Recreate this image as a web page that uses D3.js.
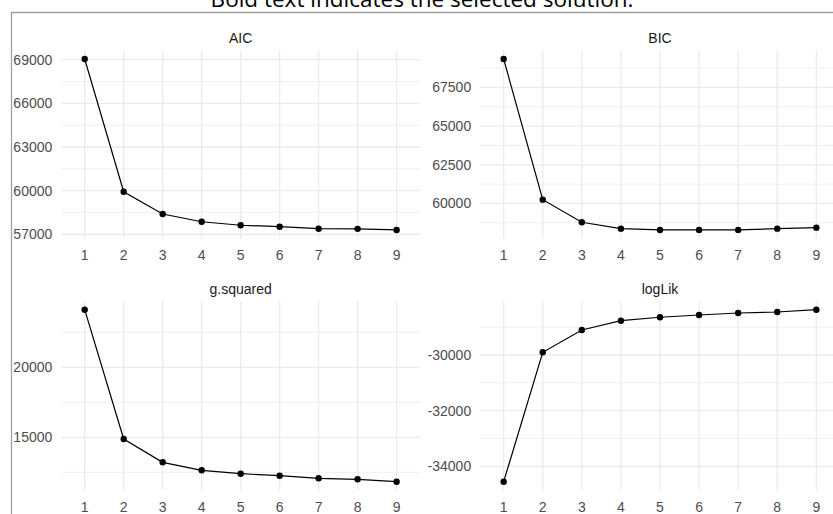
<!DOCTYPE html>
<html>
<head>
<meta charset="utf-8">
<script src="https://cdn.jsdelivr.net/npm/d3@7"></script>
<style>
  html, body { margin: 0; padding: 0; background: #ffffff; overflow: hidden; }
  svg { display: block; }
</style>
</head>
<body>
<svg id="chart" width="833" height="514"></svg>
<script>
// ---- data ----
const classes = [1, 2, 3, 4, 5, 6, 7, 8, 9];
const aicValues = [69050, 59920, 58390, 57860, 57620, 57520, 57380, 57370, 57295];
const bicValues = [69340, 60246, 58785, 58371, 58287, 58290, 58290, 58371, 58436];
const gsqValues = [24114, 14880, 13214, 12643, 12400, 12257, 12071, 12000, 11829];
const loglikValues = [-34553, -29903, -29102, -28768, -28645, -28563, -28491, -28455, -28373];
const aicTicks = [57000, 60000, 63000, 66000, 69000];
const bicTicks = [60000, 62500, 65000, 67500];
const gsqTicks = [15000, 20000];
const loglikTicks = [-34000, -32000, -30000];
const panelTitles = ["AIC", "BIC", "g.squared", "logLik"];
const titleText = "Bold text indicates the selected solution.";

// ---- layout ----
const svg = d3.select("#chart");
const W = 833, H = 514;
const cols = [[61.3, 420.0], [480.2, 839.8]];
const rows = [[50.45, 238.5], [301.1, 490.3]];

const panels = [
  { title: panelTitles[0], values: aicValues, ticks: aicTicks, col: 0, row: 0 },
  { title: panelTitles[1], values: bicValues, ticks: bicTicks, col: 1, row: 0 },
  { title: panelTitles[2], values: gsqValues, ticks: gsqTicks, col: 0, row: 1 },
  { title: panelTitles[3], values: loglikValues, ticks: loglikTicks, col: 1, row: 1 }
];

const axisFont = "'Liberation Sans', Arial, sans-serif";

// title (partly cut off at the top, as in the reference)
svg.append("text")
  .attr("x", 422)
  .attr("y", 7)
  .attr("text-anchor", "middle")
  .attr("font-family", "'Open Sans', 'Noto Sans', sans-serif")
  .attr("font-size", 22.5)
  .attr("fill", "#000")
  .text(titleText);

// frame
svg.append("path")
  .attr("d", `M11.5,${H} L11.5,12.5 L${W},12.5`)
  .attr("fill", "none")
  .attr("stroke", "#a0a0a0")
  .attr("stroke-width", 1.3);

panels.forEach(p => {
  const [x0, x1] = cols[p.col];
  const [y0, y1] = rows[p.row];
  const x = d3.scalePoint().domain(classes).range([x0, x1]).padding(0.6);
  const mn = d3.min(p.values), mx = d3.max(p.values);
  const r = mx - mn;
  const y = d3.scaleLinear().domain([mn - 0.05 * r, mx + 0.05 * r]).range([y1, y0]);
  const g = svg.append("g");

  // minor gridlines
  const step = p.ticks[1] - p.ticks[0];
  const minors = [];
  for (let v = p.ticks[0] - step / 2; v <= p.ticks[p.ticks.length - 1] + step; v += step) {
    if (v >= y.domain()[0] && v <= y.domain()[1]) minors.push(v);
  }
  g.selectAll(".minor").data(minors).enter().append("line")
    .attr("x1", x0).attr("x2", x1)
    .attr("y1", d => y(d)).attr("y2", d => y(d))
    .attr("stroke", "#ebebeb").attr("stroke-width", 0.8);

  // major horizontal gridlines
  g.selectAll(".major").data(p.ticks).enter().append("line")
    .attr("x1", x0).attr("x2", x1)
    .attr("y1", d => y(d)).attr("y2", d => y(d))
    .attr("stroke", "#ebebeb").attr("stroke-width", 1.3);

  // vertical gridlines
  g.selectAll(".vgrid").data(classes).enter().append("line")
    .attr("x1", d => x(d)).attr("x2", d => x(d))
    .attr("y1", y0).attr("y2", y1)
    .attr("stroke", "#ebebeb").attr("stroke-width", 1.3);

  // y tick labels
  g.selectAll(".ylab").data(p.ticks).enter().append("text")
    .attr("x", x0 - 9)
    .attr("y", d => y(d))
    .attr("dy", "0.36em")
    .attr("text-anchor", "end")
    .attr("font-family", axisFont)
    .attr("font-size", 14)
    .attr("fill", "#4d4d4d")
    .text(d => d);

  // x tick labels
  g.selectAll(".xlab").data(classes).enter().append("text")
    .attr("x", d => x(d))
    .attr("y", y1 + 16.5)
    .attr("dy", "0.36em")
    .attr("text-anchor", "middle")
    .attr("font-family", axisFont)
    .attr("font-size", 14)
    .attr("fill", "#4d4d4d")
    .text(d => d);

  // strip title
  g.append("text")
    .attr("x", (x0 + x1) / 2)
    .attr("y", y0 - 12.5)
    .attr("dy", "0.36em")
    .attr("text-anchor", "middle")
    .attr("font-family", axisFont)
    .attr("font-size", 14)
    .attr("fill", "#1a1a1a")
    .text(p.title);

  // line
  const line = d3.line().x((d, i) => x(classes[i])).y(d => y(d));
  g.append("path")
    .datum(p.values)
    .attr("d", line)
    .attr("fill", "none")
    .attr("stroke", "#000")
    .attr("stroke-width", 1.2);

  // points
  g.selectAll(".pt").data(p.values).enter().append("circle")
    .attr("cx", (d, i) => x(classes[i]))
    .attr("cy", d => y(d))
    .attr("r", 3.2)
    .attr("fill", "#000");
});
</script>
</body>
</html>
